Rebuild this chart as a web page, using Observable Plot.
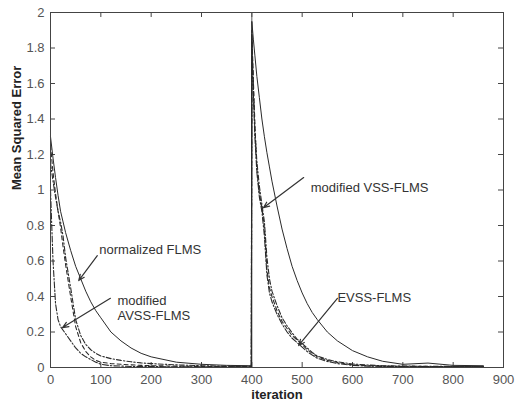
<!DOCTYPE html>
<html>
<head>
<meta charset="utf-8">
<script src="https://cdn.jsdelivr.net/npm/d3@7"></script>
<script src="https://cdn.jsdelivr.net/npm/@observablehq/plot@0.6"></script>
<style>
  html, body { margin: 0; padding: 0; background: #fff; }
</style>
</head>
<body>
<div id="chart"></div>
<script>
const iterations = [0,5,10,15,20,25,30,40,50,60,70,80,90,100,120,140,160,180,200,250,300,350,399,
  400,403,406,410,415,420,425,430,435,440,450,460,470,480,490,500,510,520,530,550,570,600,630,660,700,750,800,860];

const normalizedFLMS = [1.30,1.18,1.07,0.97,0.88,0.82,0.76,0.66,0.57,0.50,0.43,0.37,0.32,0.28,0.20,0.15,0.11,0.08,0.06,0.03,0.018,0.012,0.01,
  1.95,1.85,1.76,1.64,1.52,1.40,1.30,1.21,1.13,1.05,0.91,0.78,0.67,0.57,0.49,0.42,0.36,0.31,0.27,0.20,0.15,0.095,0.06,0.035,0.018,0.025,0.012,0.01];

const modifiedVSS = [1.25,1.10,0.98,0.88,0.79,0.68,0.58,0.40,0.23,0.14,0.09,0.06,0.04,0.03,0.022,0.018,0.015,0.012,0.01,0.008,0.006,0.005,0.005,
  1.90,1.62,1.38,1.12,0.98,0.90,0.78,0.55,0.45,0.40,0.32,0.26,0.22,0.18,0.155,0.13,0.10,0.08,0.06,0.04,0.028,0.015,0.01,0.008,0.007,0.006,0.005,0.005];

const evss = [1.15,1.05,0.96,0.88,0.82,0.74,0.62,0.45,0.27,0.18,0.13,0.10,0.08,0.065,0.05,0.04,0.032,0.026,0.022,0.015,0.01,0.008,0.007,
  1.88,1.58,1.34,1.16,1.02,0.92,0.82,0.62,0.50,0.43,0.35,0.28,0.235,0.195,0.16,0.135,0.11,0.085,0.065,0.045,0.032,0.02,0.014,0.01,0.008,0.007,0.006,0.005];

const modifiedAVSS = [1.00,0.60,0.36,0.27,0.23,0.21,0.19,0.15,0.11,0.08,0.06,0.045,0.03,0.018,0.01,0.008,0.006,0.005,0.005,0.004,0.004,0.004,0.004,
  1.85,1.55,1.30,1.10,0.96,0.88,0.74,0.52,0.42,0.37,0.30,0.245,0.20,0.165,0.14,0.115,0.09,0.07,0.052,0.034,0.022,0.012,0.008,0.006,0.005,0.005,0.004,0.004];

const xTicks = [0,100,200,300,400,500,600,700,800,900];
const yTicks = [0,0.2,0.4,0.6,0.8,1,1.2,1.4,1.6,1.8,2];
const changeAt = [400];

const labels = [
  {text: "normalized FLMS", x: 97, y: 0.665},
  {text: "modified", x: 133, y: 0.375},
  {text: "AVSS-FLMS", x: 133, y: 0.29},
  {text: "modified VSS-FLMS", x: 517, y: 1.01},
  {text: "EVSS-FLMS", x: 570, y: 0.39}
];
const arrows = [
  {x1: 93, y1: 0.63, x2: 56, y2: 0.49},
  {x1: 119, y1: 0.39, x2: 24, y2: 0.225},
  {x1: 503, y1: 1.07, x2: 423, y2: 0.90},
  {x1: 570, y1: 0.39, x2: 493, y2: 0.124}
];

const rows = (ys) => iterations.map((x, i) => ({x, y: ys[i]}));

const plotH = 407 - 12 - 40;
const plotW = 515 - 50 - 12;
const lineColor = "#2a2a2a";

const chart = Plot.plot({
  width: 515,
  height: 407,
  marginLeft: 50,
  marginRight: 12,
  marginTop: 12,
  marginBottom: 40,
  x: {domain: [0, 900]},
  y: {domain: [0, 2]},
  style: {fontFamily: "'Liberation Sans', Arial, sans-serif", fontSize: "13px", background: "#fff", color: "#333"},
  marks: [
    Plot.axisX({ticks: xTicks, tickSize: 0, tickPadding: 7, tickFormat: d => d, fill: "#555", label: null}),
    Plot.axisY({ticks: yTicks, tickSize: 0, tickPadding: 6, tickFormat: d => d, fill: "#555", label: null}),
    Plot.tickX(xTicks, {x: d => d, insetTop: plotH - 5, stroke: "#444"}),
    Plot.tickX(xTicks, {x: d => d, insetBottom: plotH - 5, stroke: "#444"}),
    Plot.tickY(yTicks, {y: d => d, insetRight: plotW - 5, stroke: "#444"}),
    Plot.tickY(yTicks, {y: d => d, insetLeft: plotW - 5, stroke: "#444"}),
    Plot.ruleX(changeAt, {stroke: "#555"}),
    Plot.lineY(rows(modifiedAVSS), {x: "x", y: "y", stroke: lineColor, strokeWidth: 1.1, strokeDasharray: "6,2,1.5,2"}),
    Plot.lineY(rows(evss), {x: "x", y: "y", stroke: lineColor, strokeWidth: 1.1, strokeDasharray: "5,2,1.5,2"}),
    Plot.lineY(rows(modifiedVSS), {x: "x", y: "y", stroke: lineColor, strokeWidth: 1.1, strokeDasharray: "4,3"}),
    Plot.lineY(rows(normalizedFLMS), {x: "x", y: "y", stroke: lineColor, strokeWidth: 1}),
    Plot.frame({stroke: "#444"}),
    Plot.arrow(arrows, {x1: "x1", y1: "y1", x2: "x2", y2: "y2", stroke: "#333", strokeWidth: 1.2, headLength: 8, headAngle: 45}),
    Plot.text(labels, {x: "x", y: "y", text: "text", textAnchor: "start", fill: "#333", fontSize: 13}),
    Plot.text(["iteration"], {frameAnchor: "bottom", dy: 31, fontWeight: "bold", fontSize: 13, fill: "#222"}),
    Plot.text(["Mean Squared Error"], {frameAnchor: "left", dx: -34, rotate: -90, fontWeight: "bold", fontSize: 13, fill: "#222"})
  ]
});
document.getElementById("chart").appendChild(chart);
</script>
</body>
</html>
